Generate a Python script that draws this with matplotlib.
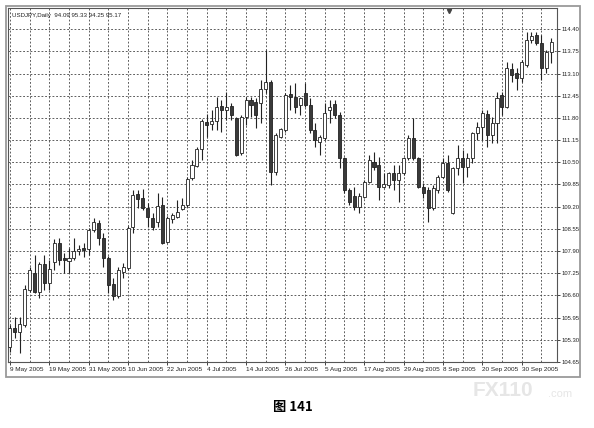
import matplotlib
matplotlib.use('Agg')
import matplotlib.pyplot as plt
from matplotlib.patches import Rectangle

# USDJPY daily, 9 May 2005 .. 10 Oct 2005 (bar index 0..110)
opens = [105.09, 105.65, 105.53, 105.73, 106.76, 107.26, 106.70, 107.52, 106.96, 107.58,
         108.13, 107.70, 107.61, 107.70, 107.90, 107.99, 107.96, 108.52, 108.72, 108.28,
         107.70, 106.93, 106.58, 107.29, 107.41, 108.60, 109.57, 109.45, 109.16, 108.87,
         108.75, 109.25, 108.16, 108.84, 108.90, 109.13, 109.25, 110.04, 110.39, 110.89,
         111.68, 111.62, 111.71, 112.15, 112.03, 112.15, 111.80, 110.77, 111.83, 112.32,
         112.26, 112.23, 112.64, 112.85, 110.21, 111.24, 111.44, 112.50, 112.41, 112.17,
         112.52, 112.17, 111.44, 111.09, 111.21, 112.03, 112.20, 111.88, 110.62, 109.69,
         109.51, 109.19, 109.48, 109.92, 110.51, 110.42, 109.78, 109.83, 110.18, 109.98,
         110.18, 110.62, 111.21, 110.62, 109.78, 109.69, 109.16, 109.69, 110.07, 110.48,
         109.01, 110.33, 110.62, 110.36, 110.62, 111.36, 111.53, 111.91, 111.30, 111.65,
         112.47, 112.12, 113.23, 113.11, 112.97, 113.35, 114.08, 114.23, 113.99, 113.26, 113.73]
highs = [105.73, 105.97, 105.97, 106.90, 107.44, 107.78, 107.58, 107.78, 107.64, 108.25,
         108.28, 107.84, 107.99, 108.28, 108.07, 108.13, 108.57, 108.87, 108.81, 108.43,
         107.76, 107.11, 107.44, 107.55, 108.63, 109.69, 109.69, 109.72, 109.30, 109.01,
         109.60, 109.48, 108.93, 109.01, 109.39, 109.45, 110.07, 110.57, 110.95, 111.77,
         111.91, 112.03, 112.41, 112.32, 112.55, 112.23, 111.83, 111.88, 112.41, 112.41,
         112.38, 112.91, 113.79, 112.91, 111.36, 111.50, 112.52, 112.76, 112.82, 112.41,
         112.82, 112.38, 111.65, 111.30, 112.23, 112.32, 112.32, 111.97, 110.65, 109.75,
         109.78, 109.60, 109.98, 110.71, 110.80, 110.65, 110.18, 110.21, 110.42, 110.42,
         110.65, 111.30, 111.80, 110.65, 109.89, 109.78, 109.83, 110.12, 110.62, 110.71,
         110.36, 111.01, 110.86, 110.77, 111.38, 111.68, 112.03, 112.03, 111.83, 112.55,
         112.55, 113.43, 113.40, 113.26, 113.49, 114.31, 114.31, 114.31, 114.23, 113.79, 114.14]
lows = [104.94, 105.36, 104.91, 105.67, 106.70, 106.67, 106.53, 106.76, 106.76, 107.35,
        107.49, 107.26, 107.26, 107.64, 107.78, 107.73, 107.78, 108.46, 108.07, 107.44,
        106.67, 106.47, 106.53, 107.11, 107.35, 108.43, 109.16, 109.10, 108.60, 108.52,
        108.60, 108.10, 108.13, 108.72, 108.87, 109.10, 109.19, 109.98, 110.36, 110.57,
        111.24, 111.44, 111.44, 111.38, 111.74, 111.74, 110.68, 110.71, 111.59, 111.83,
        111.50, 111.65, 112.52, 109.83, 110.12, 111.21, 111.38, 112.03, 111.94, 111.88,
        112.12, 111.36, 110.95, 110.71, 111.15, 111.65, 111.80, 110.33, 109.60, 109.25,
        109.10, 109.01, 109.45, 109.89, 110.27, 109.39, 109.75, 109.75, 109.69, 109.34,
        110.12, 110.57, 110.57, 109.75, 109.45, 108.75, 109.10, 109.60, 110.04, 109.63,
        108.98, 110.12, 109.89, 110.07, 110.48, 111.15, 111.15, 110.95, 111.06, 111.06,
        111.88, 112.09, 112.85, 112.61, 112.85, 113.29, 113.99, 113.93, 112.91, 113.11, 113.40]
closes = [105.65, 105.53, 105.76, 106.79, 107.35, 106.70, 107.52, 106.96, 107.38, 108.13,
          107.64, 107.64, 107.70, 107.90, 107.96, 107.93, 108.52, 108.75, 108.28, 107.70,
          106.90, 106.58, 107.35, 107.44, 108.57, 109.54, 109.42, 109.16, 108.90, 108.60,
          109.22, 108.13, 108.87, 108.96, 109.04, 109.25, 110.01, 110.42, 110.89, 111.71,
          111.59, 111.71, 112.12, 112.03, 112.12, 111.88, 110.71, 111.83, 112.32, 112.17,
          111.88, 112.64, 112.85, 110.21, 111.30, 111.47, 112.47, 112.41, 112.12, 112.38,
          112.17, 111.44, 111.15, 111.24, 111.94, 112.12, 111.88, 110.62, 109.69, 109.34,
          109.19, 109.51, 109.92, 110.57, 110.36, 109.78, 109.86, 110.18, 109.98, 110.18,
          110.62, 111.21, 110.62, 109.78, 109.60, 109.16, 109.75, 110.07, 110.48, 109.69,
          110.33, 110.62, 110.36, 110.62, 111.36, 111.53, 111.94, 111.30, 111.65, 112.38,
          112.12, 113.26, 113.05, 112.97, 113.43, 114.08, 114.20, 113.99, 113.26, 113.73, 114.02]

date_labels = ['9 May 2005', '19 May 2005', '31 May 2005', '10 Jun 2005', '22 Jun 2005',
               '4 Jul 2005', '14 Jul 2005', '26 Jul 2005', '5 Aug 2005', '17 Aug 2005',
               '29 Aug 2005', '8 Sep 2005', '20 Sep 2005', '30 Sep 2005']
price_ticks = [104.65, 105.30, 105.95, 106.60, 107.25, 107.90, 108.55, 109.20,
               109.85, 110.50, 111.15, 111.80, 112.45, 113.10, 113.75, 114.40]

W, H = 594, 428
fig = plt.figure(figsize=(W / 100, H / 100), dpi=100)
fig.patch.set_facecolor('white')
plt.rcParams['font.family'] = ['Liberation Sans', 'DejaVu Sans']

# MT4 window frame
fig.patches.append(Rectangle((6 / W, 1 - 377 / H), (580 - 6) / W, (377 - 6) / H,
                             transform=fig.transFigure, fill=False,
                             edgecolor='#9a9a9a', lw=1.3))

ax = fig.add_axes([8 / W, 1 - 362 / H, (557 - 8) / W, (362 - 8) / H])
n = len(opens)
xs = list(range(n))

# grid
for k in range(0, n, 4):
    ax.axvline(k, color='#444444', lw=0.6, ls=(0, (2.2, 2.2)), zorder=0)
for t in price_ticks:
    ax.axhline(t, color='#444444', lw=0.6, ls=(0, (2.2, 2.2)), zorder=0)

# candles
ax.vlines(xs, lows, highs, color='#222222', lw=0.8, zorder=2)
for i in xs:
    o, c = opens[i], closes[i]
    up = c >= o
    ax.bar(i, max(abs(c - o), 0.015), bottom=min(o, c), width=0.62,
           color='white' if up else '#3a3a3a', edgecolor='#222222',
           linewidth=0.6, zorder=3)

ax.set_xlim(-0.4, 111.2)
ax.set_ylim(104.65, 115.02)

ax.yaxis.tick_right()
ax.set_yticks(price_ticks)
ax.set_yticklabels(['%.2f' % t for t in price_ticks])
ax.set_xticks(list(range(0, 8 * len(date_labels), 8)))
ax.set_xticklabels(date_labels, ha='left')
ax.tick_params(axis='y', length=2.5, width=0.6, pad=1, labelsize=4.2, colors='#222222')
ax.tick_params(axis='x', length=2, width=0.6, pad=1.5, labelsize=4.6, colors='#222222')
for s in ax.spines.values():
    s.set_color('#555555')
    s.set_linewidth(0.8)

ax.text(0.008, 0.985, 'USDJPY,Daily  94.09 95.33 94.25 95.17', transform=ax.transAxes,
        ha='left', va='top', fontsize=4.4, color='#222222')

# chart shift marker
ax.plot([89.3], [114.92], marker='v', color='#444444', markersize=3, clip_on=False)

# caption and watermark
fig.text(293 / W, 1 - 407 / H, '图 141', ha='center', va='center', fontsize=9.5,
         fontweight='bold', family=['Noto Sans CJK SC', 'DejaVu Sans'])
fig.text(473 / W, 1 - 391 / H, 'FX110', ha='left', va='center', fontsize=15,
         fontweight='bold', color='#e6e6e6')
fig.text(548 / W, 1 - 394 / H, '.com', ha='left', va='center', fontsize=8,
         color='#e6e6e6')

fig.savefig('out.png', dpi=100)
